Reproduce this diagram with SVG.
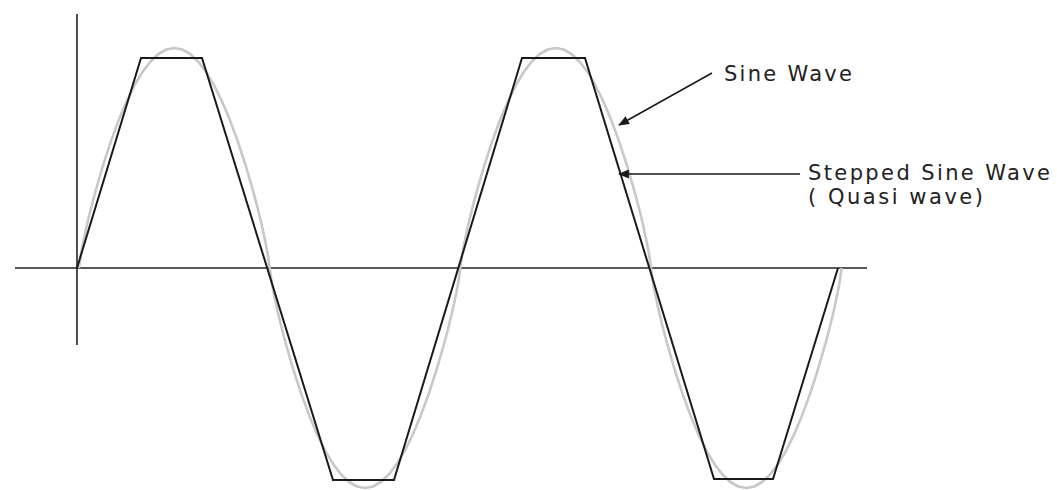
<svg xmlns="http://www.w3.org/2000/svg" width="1057" height="490" viewBox="0 0 1057 490">
  <style>
    .axis { stroke: #222; stroke-width: 1.6; fill: none; }
    .sine { stroke: #c8c8c8; stroke-width: 2.6; fill: none; stroke-linejoin: round; }
    .step { stroke: #1a1a1a; stroke-width: 2; fill: none; stroke-linejoin: miter; }
    .lead { stroke: #1a1a1a; stroke-width: 1.6; fill: none; }
    .lbl { font-family: "DejaVu Sans", Verdana, sans-serif; font-size: 21px; fill: #222; }
  </style>
  <defs>
    <marker id="arr" viewBox="0 0 12 10" refX="11" refY="5" markerWidth="12" markerHeight="9" markerUnits="userSpaceOnUse" orient="auto">
      <path d="M0,0 L12,5 L0,10 Z" fill="#1a1a1a"/>
    </marker>
    <path id="hw" d="M0,0 L1.99,-14.3 L3.97,-24.8 L7.94,-43.2 L11.92,-59.5 L15.89,-74.6 L23.83,-102.0 L31.77,-126.4 L39.72,-147.9 L47.66,-166.7 L55.60,-182.8 L63.55,-196.1 L71.49,-206.5 L79.43,-214.0 L87.38,-218.5 L95.32,-220 L103.27,-218.5 L111.22,-214.0 L119.16,-206.5 L127.10,-196.1 L135.05,-182.8 L142.99,-166.7 L150.93,-147.9 L158.88,-126.4 L166.82,-102.0 L174.76,-74.6 L178.73,-59.5 L182.71,-43.2 L186.68,-24.8 L188.66,-14.3 L190.65,0"/>
  </defs>
  <rect width="1057" height="490" fill="#fff"/>
  <g id="axes">
    <line class="axis" x1="77" y1="14" x2="77" y2="345"/>
    <line class="axis" x1="15" y1="268" x2="867" y2="268"/>
  </g>
  <g id="sine-wave" class="sine">
    <use href="#hw" transform="translate(79,268)"/>
    <use href="#hw" transform="translate(269.65,268) scale(1,-1)"/>
    <use href="#hw" transform="translate(460.3,268)"/>
    <use href="#hw" transform="translate(650.95,268) scale(1,-1)"/>
  </g>
  <g id="stepped-wave">
    <path class="step" d="M77,268 L141,58 L202,58 L333,480 L394,480 L522,58 L585,58 L714,479 L773,479 L838,268"/>
  </g>
  <g id="connectors">
    <line class="lead" x1="712" y1="73" x2="619" y2="125" marker-end="url(#arr)"/>
    <line class="lead" x1="800" y1="174" x2="619" y2="174" marker-end="url(#arr)"/>
  </g>
  <g id="label-sine">
    <text class="lbl" x="724" y="81" textLength="128" lengthAdjust="spacing">Sine Wave</text>
  </g>
  <g id="label-stepped">
    <text class="lbl" x="808" y="180" textLength="242" lengthAdjust="spacing">Stepped Sine Wave</text>
    <text class="lbl" x="808" y="204" textLength="175" lengthAdjust="spacing">( Quasi wave)</text>
  </g>
</svg>
